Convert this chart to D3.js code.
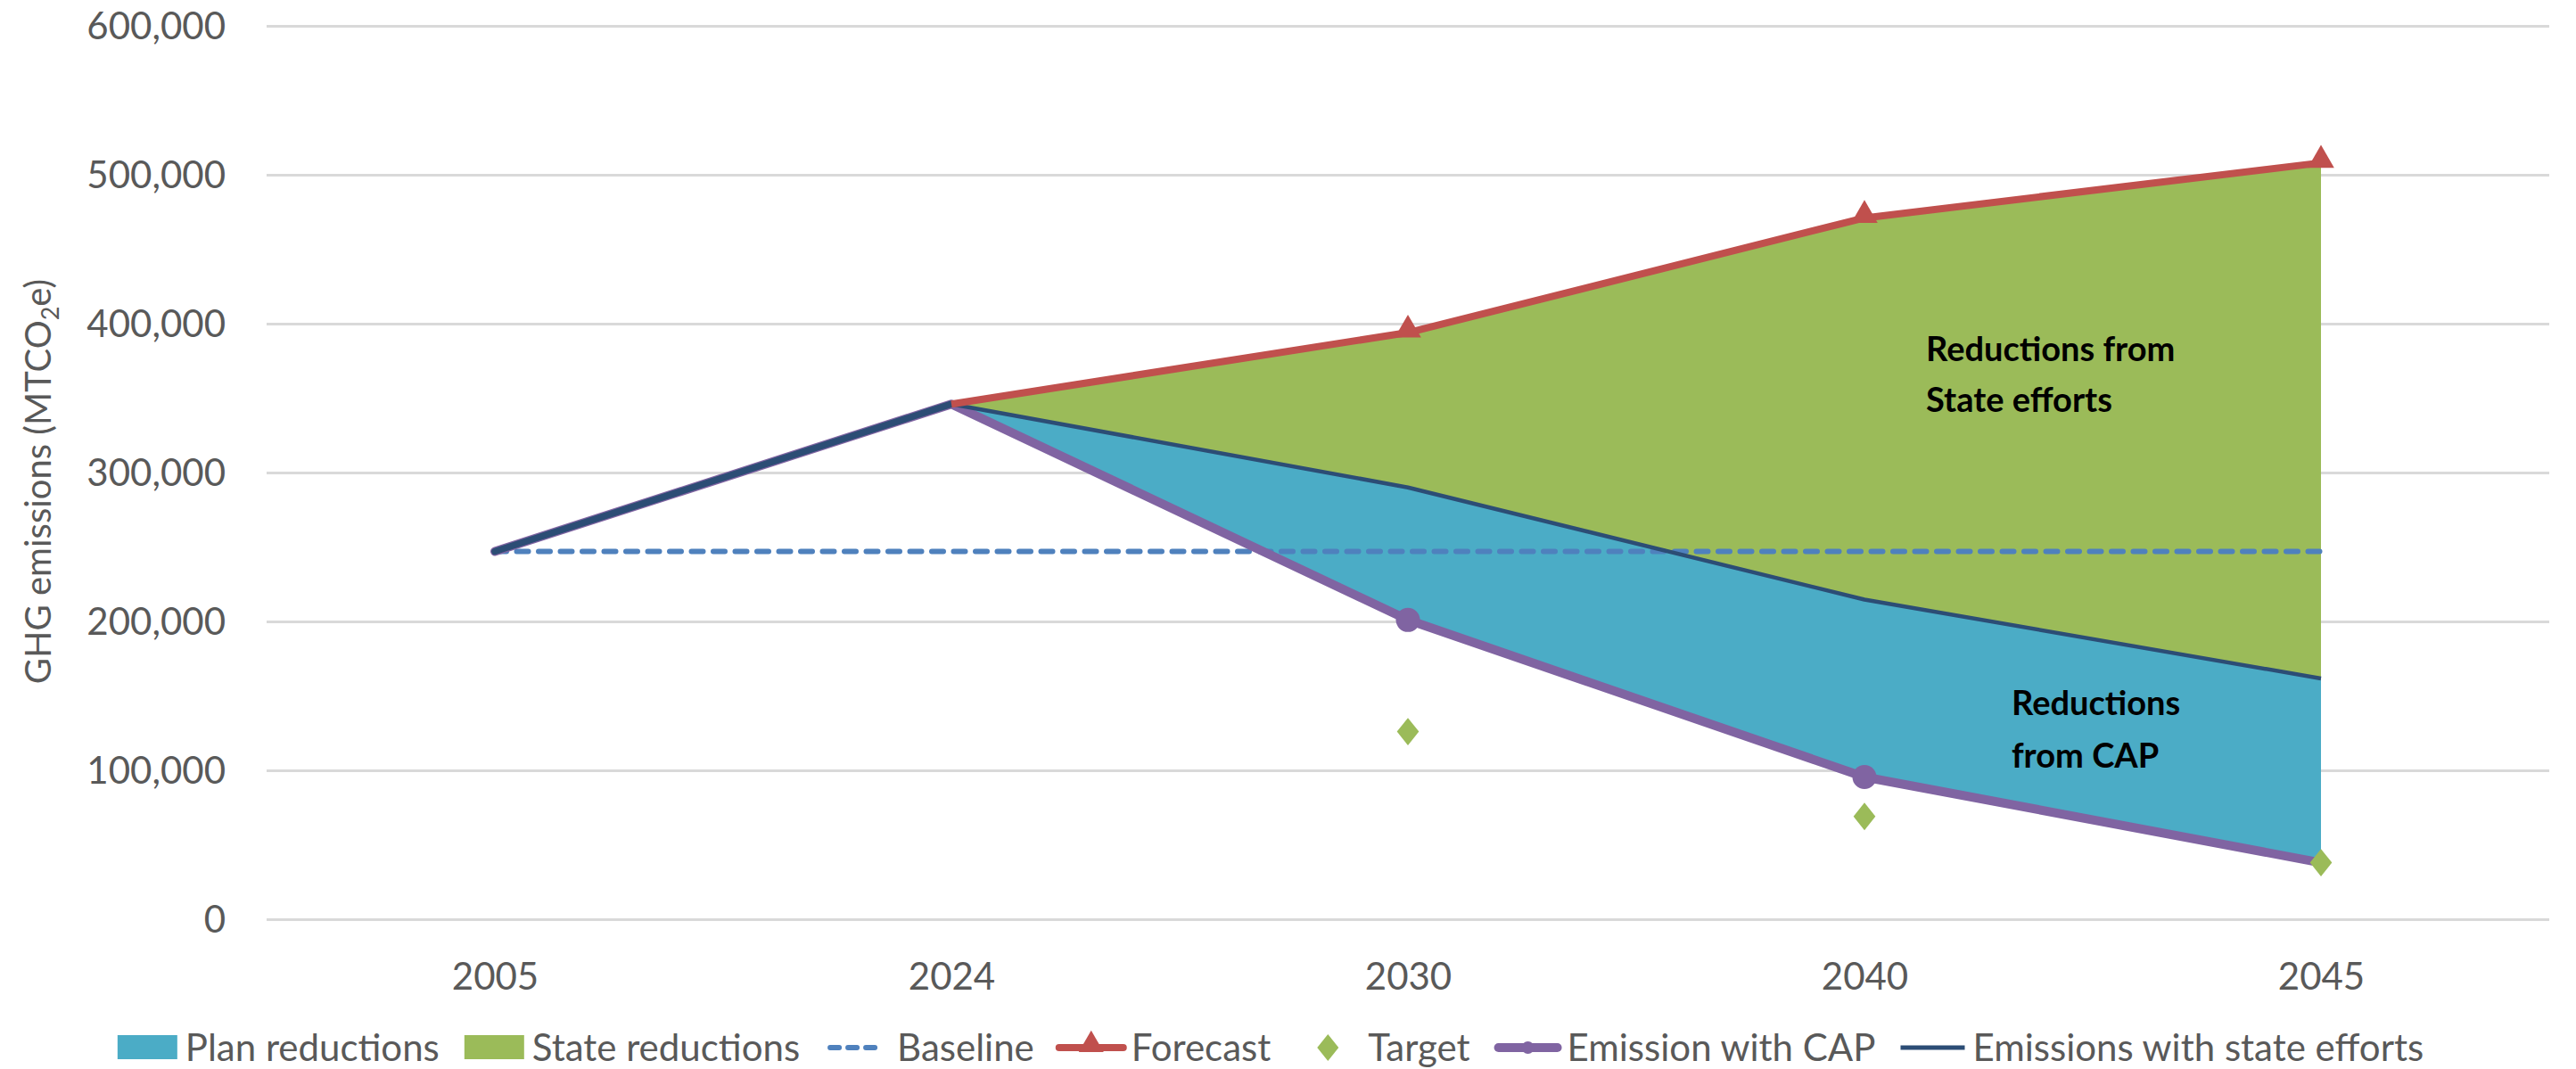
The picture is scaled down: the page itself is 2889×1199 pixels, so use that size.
<!DOCTYPE html>
<html>
<head>
<meta charset="utf-8">
<script src="https://cdn.jsdelivr.net/npm/d3@7"></script>
<style>
	body { margin:0; background:#fff; }
	text { font-family:Lato, 'Open Sans', sans-serif; }
</style>
</head>
<body>
<svg id="chart" width="2889" height="1199"></svg>
<script>
var years          = ['2005','2024','2030','2040','2045']
var baseline       = [247000,247000,247000,247000,247000]
var forecast       = [null,346000,394000,471000,508000]
var emissionCAP    = [247000,346000,201000,95500,38000]
var emissionState  = [247000,346000,290000,214700,161700]
var target         = [null,null,126000,69000,38000]
var yTicks         = [0,100000,200000,300000,400000,500000,600000]
var legendNames    = ['Plan reductions','State reductions','Baseline','Forecast','Target','Emission with CAP','Emissions with state efforts']

var col = {plan:'#4BACC6', state:'#9BBB59', base:'#4F81BD', fore:'#C0504D', target:'#9BBB59', cap:'#8064A2', eff:'#2C4D75', text:'#595959', grid:'#D9D9D9'}

var svg = d3.select('#chart')
var x = d3.scalePoint().domain(years).range([299,2859]).padding(0.5)
var y = d3.scaleLinear().domain([0,600000]).range([1031,29])

// gridlines
var grid = svg.append('g').attr('id','grid').attr('transform','translate(299,0)')
	.call(d3.axisLeft(y).tickValues(yTicks).tickSize(-2560).tickFormat(''))
grid.select('.domain').remove()
grid.selectAll('line').attr('stroke',col.grid).attr('stroke-width',3)

var yAxis = svg.append('g').attr('transform','translate(253,0)')
	.call(d3.axisLeft(y).tickValues(yTicks).tickSize(0).tickPadding(0).tickFormat(d3.format(',')))
yAxis.select('.domain').remove()
yAxis.selectAll('text').attr('fill',col.text).style('font-size','42px').attr('dy','0.35em')

var xAxis = svg.append('g').attr('transform','translate(0,1095)')
	.call(d3.axisBottom(x).tickSize(0).tickPadding(0))
xAxis.select('.domain').remove()
xAxis.selectAll('text').attr('fill',col.text).style('font-size','42px').attr('dy','0.35em')

var title = svg.append('text').attr('transform','translate(43,540) rotate(-90)')
	.attr('text-anchor','middle').attr('dy','0.35em').attr('fill',col.text).style('font-size','40px')
title.append('tspan').text('GHG emissions (MTCO')
title.append('tspan').text('2').style('font-size','27px').attr('dy',9)
title.append('tspan').text('e)').attr('dy',-9)

// stacked areas from 2024 on
var idx = d3.range(1,years.length)
var areas = svg.append('g').attr('id','areas')
areas.append('path').datum(idx).attr('fill',col.plan)
	.attr('d',d3.area().x(function(i){return x(years[i])})
		.y0(function(i){return y(emissionCAP[i])}).y1(function(i){return y(emissionState[i])}))
areas.append('path').datum(idx).attr('fill',col.state)
	.attr('d',d3.area().x(function(i){return x(years[i])})
		.y0(function(i){return y(emissionState[i])}).y1(function(i){return y(forecast[i])}))

function lineOf(arr){
	return d3.line().defined(function(i){return arr[i]!=null})
		.x(function(i){return x(years[i])}).y(function(i){return y(arr[i])})
}
var all = d3.range(years.length)
var lines = svg.append('g').attr('id','lines')

lines.append('path').datum(all).attr('fill','none').attr('stroke',col.base)
	.attr('stroke-width',6).attr('stroke-dasharray','13,11.5').attr('stroke-linecap','round')
	.attr('d',lineOf(baseline))

lines.append('path').datum(all).attr('fill','none').attr('stroke',col.cap)
	.attr('stroke-width',10).attr('stroke-linejoin','round').attr('stroke-linecap','round')
	.attr('d',lineOf(emissionCAP))

lines.append('path').datum([0,1]).attr('fill','none').attr('stroke',col.eff)
	.attr('stroke-width',7.5).attr('stroke-linejoin','round').attr('stroke-linecap','round')
	.attr('d',lineOf(emissionState))
lines.append('path').datum(idx).attr('fill','none').attr('stroke',col.eff)
	.attr('stroke-width',4.5).attr('stroke-linejoin','round')
	.attr('d',lineOf(emissionState))

lines.append('path').datum(all).attr('fill','none').attr('stroke',col.fore)
	.attr('stroke-width',8).attr('stroke-linejoin','round')
	.attr('d',lineOf(forecast))

var diamond = {draw:function(ctx,size){
	var w = Math.sqrt(size*1.6)/2, h = w/0.8
	ctx.moveTo(0,-h); ctx.lineTo(w,0); ctx.lineTo(0,h); ctx.lineTo(-w,0); ctx.closePath()
}}

var marks = svg.append('g').attr('id','marks')
marks.selectAll('.cap').data([2,3]).enter().append('circle').attr('class','cap')
	.attr('cx',function(i){return x(years[i])}).attr('cy',function(i){return y(emissionCAP[i])})
	.attr('r',13.5).attr('fill',col.cap)
marks.selectAll('.fore').data([2,3,4]).enter().append('path').attr('class','fore')
	.attr('transform',function(i){return 'translate('+x(years[i])+','+(y(forecast[i])-3)+')'})
	.attr('d',d3.symbol().type(d3.symbolTriangle).size(380)).attr('fill',col.fore)
marks.selectAll('.target').data(all.filter(function(i){return target[i]!=null})).enter().append('path').attr('class','target')
	.attr('transform',function(i){return 'translate('+x(years[i])+','+y(target[i])+')'})
	.attr('d',d3.symbol().type(diamond).size(380)).attr('fill',col.target)

// labels inside areas
var notes = svg.append('g').attr('id','notes').style('font-size','38px').style('font-weight','bold').attr('fill','#000')
notes.append('text').attr('x',2160).attr('y',405).text('Reductions from')
notes.append('text').attr('x',2160).attr('y',462).text('State efforts')
notes.append('text').attr('x',2256).attr('y',802).text('Reductions')
notes.append('text').attr('x',2256).attr('y',861).text('from CAP')

// legend
var legend = svg.append('g').attr('id','legend')
var keyTypes = ['rect','rect','dash','tri','dia','dot','line']
var keyColors = [col.plan,col.state,col.base,col.fore,col.target,col.cap,col.eff]
var lx = 0, ly = 1175
legendNames.forEach(function(e,i){
	var g = legend.append('g')
	var t = keyTypes[i], c = keyColors[i]
	if(t=='rect'){
		g.append('rect').attr('x',lx).attr('y',ly-14).attr('width',67).attr('height',27).attr('fill',c)
	} else if(t=='dash'){
		g.append('line').attr('x1',lx+6).attr('x2',lx+66).attr('y1',ly).attr('y2',ly)
			.attr('stroke',c).attr('stroke-width',6).attr('stroke-dasharray','10,10').attr('stroke-linecap','round')
	} else if(t=='tri'){
		g.append('line').attr('x1',lx).attr('x2',lx+72).attr('y1',ly).attr('y2',ly).attr('stroke',c).attr('stroke-width',8).attr('stroke-linecap','round')
		g.append('path').attr('transform','translate('+(lx+36)+','+(ly-3)+')').attr('d',d3.symbol().type(d3.symbolTriangle).size(340)).attr('fill',c)
	} else if(t=='dia'){
		g.append('path').attr('transform','translate('+(lx+36)+','+ly+')').attr('d',d3.symbol().type(diamond).size(360)).attr('fill',c)
	} else if(t=='dot'){
		g.append('line').attr('x1',lx+4).attr('x2',lx+70).attr('y1',ly).attr('y2',ly).attr('stroke',c).attr('stroke-width',10).attr('stroke-linecap','round')
		g.append('circle').attr('cx',lx+37).attr('cy',ly).attr('r',7).attr('fill',c)
	} else {
		g.append('line').attr('x1',lx).attr('x2',lx+72).attr('y1',ly).attr('y2',ly).attr('stroke',c).attr('stroke-width',5)
	}
	var kw = (t=='rect') ? 67 : 72
	var txt = g.append('text').attr('x',lx+kw+9).attr('y',ly).attr('dy','0.35em')
		.attr('fill',col.text).style('font-size','42px').text(e)
	lx = lx + kw + 9 + txt.node().getComputedTextLength() + 28
})
var lw = lx - 28
legend.attr('transform','translate('+(1425 - lw/2)+',0)')
</script>
</body>
</html>
